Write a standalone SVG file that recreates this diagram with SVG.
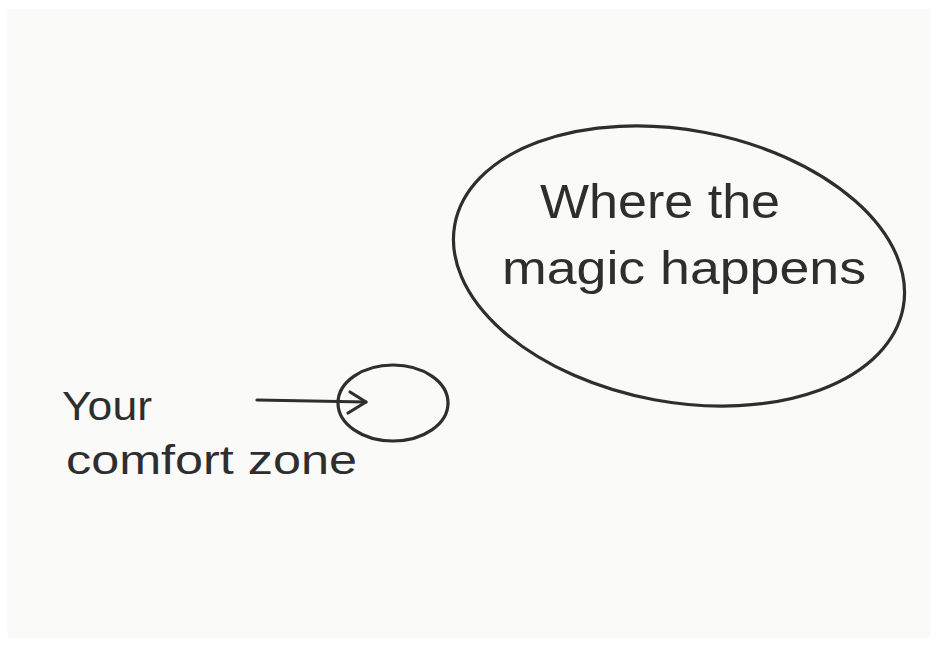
<svg xmlns="http://www.w3.org/2000/svg" width="937" height="646" viewBox="0 0 937 646">
<style>
.ink{fill:none;stroke:#2e2e2e;stroke-width:3.2;stroke-linecap:round;stroke-linejoin:round}
.t{font-family:"Liberation Sans","DejaVu Sans",sans-serif;fill:#2e2e2e}
</style>
<rect x="0" y="0" width="937" height="646" fill="#ffffff"/>
<rect x="7" y="9" width="923" height="629" fill="#fafaf8"/>
<g id="magic">
<ellipse class="ink" cx="679" cy="266" rx="228" ry="136" transform="rotate(10.5 679 266)"/>
<text class="t" x="540" y="218" font-size="48" textLength="240" lengthAdjust="spacingAndGlyphs">Where the</text>
<text class="t" x="502" y="284" font-size="46" textLength="364" lengthAdjust="spacingAndGlyphs">magic happens</text>
</g>
<g id="comfort">
<ellipse class="ink" cx="393" cy="403" rx="55" ry="38"/>
</g>
<g id="label">
<text class="t" x="62" y="420" font-size="40" textLength="90" lengthAdjust="spacingAndGlyphs">Your</text>
<text class="t" x="66" y="474" font-size="40" textLength="291" lengthAdjust="spacingAndGlyphs">comfort zone</text>
</g>
<g id="connectors">
<path class="ink" d="M257 400 L366 402"/>
<path class="ink" d="M350 392 L366 402 L348 413"/>
</g>
</svg>
